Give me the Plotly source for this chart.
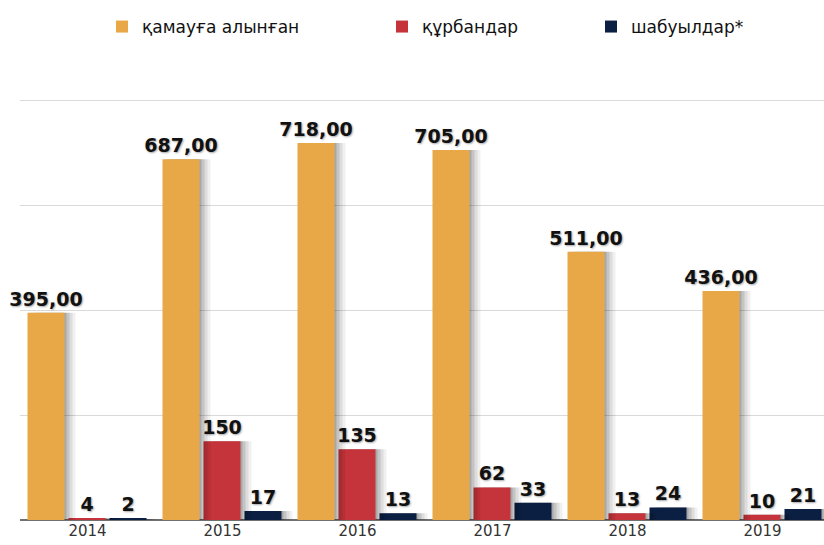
import plotly.graph_objects as go

years = ["2014", "2015", "2016", "2017", "2018", "2019"]
detained = [395, 687, 718, 705, 511, 436]
victims = [4, 150, 135, 62, 13, 10]
attacks = [2, 17, 13, 33, 24, 21]

names = ["қамауға алынған", "құрбандар", "шабуылдар*"]
colors = ["#E8A847", "#C4343A", "#0B1F42"]

W, H = 824, 545
L, R, T, B = 20, 0, 97, 25
cat_px = 135.0
bar_w = 37 / cat_px
offsets = [-60 / cat_px, -19 / cat_px, 22 / cat_px]
px_per_unit = 0.525
plot_h = H - T - B

fig = go.Figure()

series = [
    (detained, [f"{v:.2f}".replace(".", ",") for v in detained]),
    (victims, [str(v) for v in victims]),
    (attacks, [str(v) for v in attacks]),
]

legend_ids = ["legend", "legend2", "legend3"]
for idx in [2, 1, 0]:
    vals, txt = series[idx]
    for sh, a in [(11, 0.06), (8, 0.08), (5, 0.11), (2, 0.14)]:
        fig.add_trace(go.Bar(
            x=years, y=vals, width=bar_w, offset=offsets[idx] + sh / cat_px,
            marker=dict(color=f"rgba(0,0,0,{a})", line=dict(width=0)),
            showlegend=False, hoverinfo="skip",
        ))
    fig.add_trace(go.Bar(
        x=years, y=vals, name=names[idx], width=bar_w, offset=offsets[idx],
        marker=dict(color=colors[idx], line=dict(width=0)),
        text=txt, textposition="outside", cliponaxis=False,
        constraintext="none",
        textfont=dict(family="DejaVu Sans", size=19, color="#111111",
                      weight="bold", shadow="1px 1px 2px rgba(0,0,0,0.35)"),
        legend=legend_ids[idx],
    ))

plot_w = W - L - R
span = plot_w / cat_px

leg_font = dict(family="DejaVu Sans", size=17, color="#111111")
text_starts = [142, 422, 631]
legs = {}
for i, lid in enumerate(legend_ids):
    legs[lid] = dict(
        x=(text_starts[i] - 40) / W, xref="container", xanchor="left",
        y=1 - 27 / H, yref="container", yanchor="middle",
        orientation="h", font=leg_font, bgcolor="rgba(0,0,0,0)",
        borderwidth=0,
    )

fig.update_layout(
    width=W, height=H,
    margin=dict(l=L, r=R, t=T, b=B, pad=0),
    paper_bgcolor="white", plot_bgcolor="white",
    barmode="overlay",
    xaxis=dict(range=[-0.5, -0.5 + span], showgrid=False, showline=False,
               tickfont=dict(family="DejaVu Sans", size=15, color="#333333"),
               ticks="", ticklen=0,
               automargin=False, fixedrange=True),
    yaxis=dict(range=[0, plot_h / px_per_unit], tickvals=[200, 400, 600, 800],
               showticklabels=False,
               showgrid=True, gridcolor="#D9D9D9", gridwidth=1,
               zeroline=True, zerolinecolor="#707070", zerolinewidth=2,
               automargin=False, fixedrange=True),
    **legs,
)

fig.write_html("out.html")
